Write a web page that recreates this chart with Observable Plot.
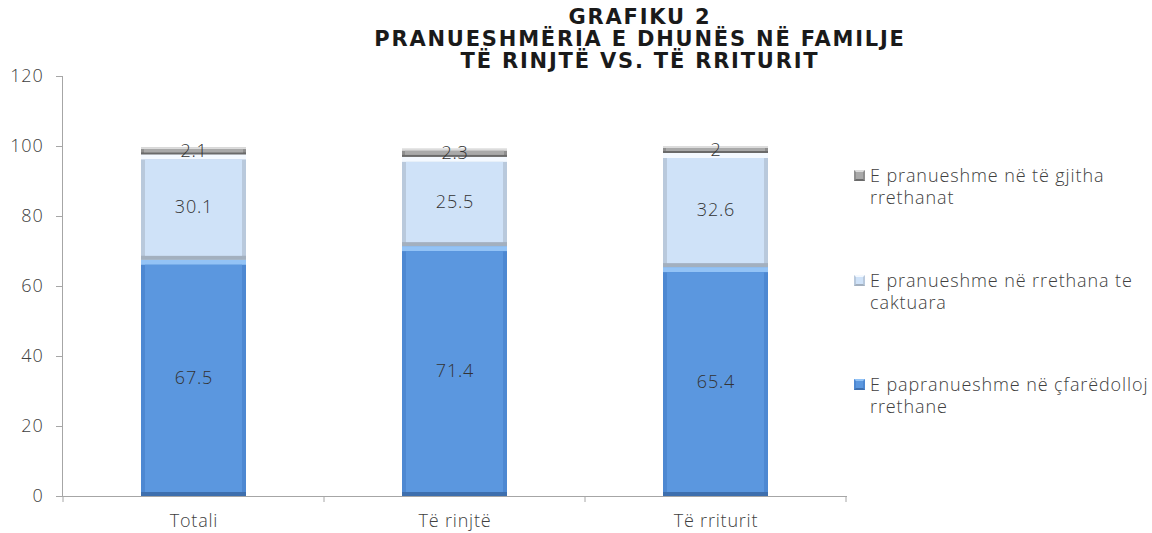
<!DOCTYPE html>
<html>
<head>
<meta charset="utf-8">
<script src="https://cdn.jsdelivr.net/npm/d3@7"></script>
<script src="https://cdn.jsdelivr.net/npm/@observablehq/plot@0.6"></script>
<style>
  html, body { margin: 0; padding: 0; background: #fff; }
  #wrap { position: relative; width: 1152px; height: 533px; overflow: hidden; }
  #title { position: absolute; left: 290px; width: 700px; top: 6px; text-align: center;
    font-family: "DejaVu Sans", sans-serif; font-weight: bold; font-size: 21px; letter-spacing: 1.8px;
    line-height: 22px; color: #1a1a1a; white-space: nowrap; }
  #legend { position: absolute; left: 852px; top: 0; width: 300px; height: 533px; font-family: "Open Sans", sans-serif;
    font-size: 18px; letter-spacing: 0.9px; color: #404040; font-weight: 300; }
  .li { position: absolute; left: 0; line-height: 22px; padding-left: 18px; white-space: nowrap; }
  .sw { position: absolute; left: 2px; top: 6px; width: 11px; height: 11px; box-sizing: border-box; }
</style>
</head>
<body>
<div id="wrap">
  <div id="chart"></div>
  <div id="title"></div>
  <div id="legend"></div>
</div>
<script>
const titleLines = ["GRAFIKU 2", "PRANUESHMËRIA E DHUNËS NË FAMILJE", "TË RINJTË VS. TË RRITURIT"];
const categories = ["Totali", "Të rinjtë", "Të rriturit"];
const series = ["E papranueshme në çfarëdolloj rrethane", "E pranueshme në rrethana te caktuara", "E pranueshme në të gjitha rrethanat"];
const unacceptable = [67.5, 71.4, 65.4];
const someCircumstances = [30.1, 25.5, 32.6];
const allCircumstances = [2.1, 2.3, 2];
const yTicks = [0, 20, 40, 60, 80, 100, 120];
const legendLines = [
  ["E pranueshme në të gjitha", "rrethanat"],
  ["E pranueshme në rrethana te", "caktuara"],
  ["E papranueshme në çfarëdolloj", "rrethane"]
];
// per series: face, side, top highlight, bottom shade
const faceColors = ["#5b97df", "#cfe2f8", "#a9a9a9"];
const sideColors = ["#4d88d2", "#b9c9dc", "#8f8f8f"];
const topColors = ["#93c3f6", "#f4f9ff", "#dcdcdc"];
const bottomColors = ["#3e6fae", "#a3b0bf", "#6a6a6a"];

const seriesValues = [unacceptable, someCircumstances, allCircumstances];
const rows = [];
categories.forEach((c, i) => {
  let base = 0;
  seriesValues.forEach((vals, s) => {
    const v = vals[i];
    rows.push({cat: c, s, value: v, y1: base, y2: base + v});
    base += v;
  });
});
const big = rows.filter(d => d.s < 2);
const small = rows.filter(d => d.s === 2);
const bw = 78; // band inset for bars

const plot = Plot.plot({
  width: 1152,
  height: 533,
  marginLeft: 62,
  marginRight: 305,
  marginTop: 76,
  marginBottom: 37,
  style: {fontFamily: "'Open Sans', sans-serif", fontSize: "18px", fontWeight: 300, color: "#404040", background: "transparent", letterSpacing: "0.8px"},
  x: {domain: categories, padding: 0, label: null},
  y: {domain: [0, 120], label: null},
  marks: [
    Plot.barY(rows, {x: "cat", y1: "y1", y2: "y2", fill: d => sideColors[d.s], insetLeft: bw, insetRight: bw}),
    Plot.barY(big, {x: "cat", y1: "y2", y2: "y2", fill: d => topColors[d.s], insetLeft: bw, insetRight: bw, insetBottom: -5}),
    Plot.barY(small, {x: "cat", y1: "y2", y2: "y2", fill: d => topColors[d.s], insetLeft: bw, insetRight: bw, insetBottom: -2}),
    Plot.barY(big, {x: "cat", y1: "y1", y2: "y1", fill: d => bottomColors[d.s], insetLeft: bw, insetRight: bw, insetTop: -4}),
    Plot.barY(small, {x: "cat", y1: "y1", y2: "y1", fill: d => bottomColors[d.s], insetLeft: bw, insetRight: bw, insetTop: -2}),
    Plot.barY(big, {x: "cat", y1: "y1", y2: "y2", fill: d => faceColors[d.s], insetLeft: bw + 4, insetRight: bw + 4, insetTop: 5, insetBottom: 4}),
    Plot.barY(small, {x: "cat", y1: "y1", y2: "y2", fill: d => faceColors[d.s], insetLeft: bw + 3, insetRight: bw + 3, insetTop: 2, insetBottom: 2}),
    Plot.text(rows, {x: "cat", y: d => (d.y1 + d.y2) / 2, text: d => String(d.value), fill: "#333", fontSize: 18, fontWeight: 300}),
    Plot.axisY({ticks: yTicks, tickSize: 6, tickPadding: 13, stroke: "#a6a6a6", fill: "#404040", fontSize: 18, label: null}),
    Plot.axisX({tickSize: 0, tickPadding: 18, fill: "#404040", fontSize: 18, label: null}),
    Plot.frame({anchor: "left", stroke: "#a6a6a6"}),
    Plot.ruleY([0], {stroke: "#a6a6a6"})
  ]
});

const svg = d3.select(plot);
const xs = plot.scale("x");
const ys = plot.scale("y");
const y0 = ys.apply(0);
const bounds = categories.map(c => xs.apply(c)).concat([xs.apply(categories[categories.length - 1]) + xs.step]);
svg.append("g").selectAll("line").data(bounds).join("line")
  .attr("x1", d => d).attr("x2", d => d).attr("y1", y0).attr("y2", y0 + 6)
  .attr("stroke", "#a6a6a6");

document.getElementById("chart").appendChild(plot);

const titleEl = document.getElementById("title");
titleEl.innerHTML = titleLines.map(t => `<div>${t}</div>`).join("");

const legendOrder = [2, 1, 0];
const legendTops = [164, 269, 373];
const legendEl = document.getElementById("legend");
legendOrder.forEach((s, k) => {
  const div = document.createElement("div");
  div.className = "li";
  div.style.top = legendTops[k] + "px";
  div.innerHTML = `<span class="sw" style="background:${faceColors[s]};border:2px solid ${sideColors[s]};border-top-color:${topColors[s]};border-bottom-color:${bottomColors[s]}"></span>` + legendLines[k].join("<br>");
  div.title = series[s];
  legendEl.appendChild(div);
});
</script>
</body>
</html>
